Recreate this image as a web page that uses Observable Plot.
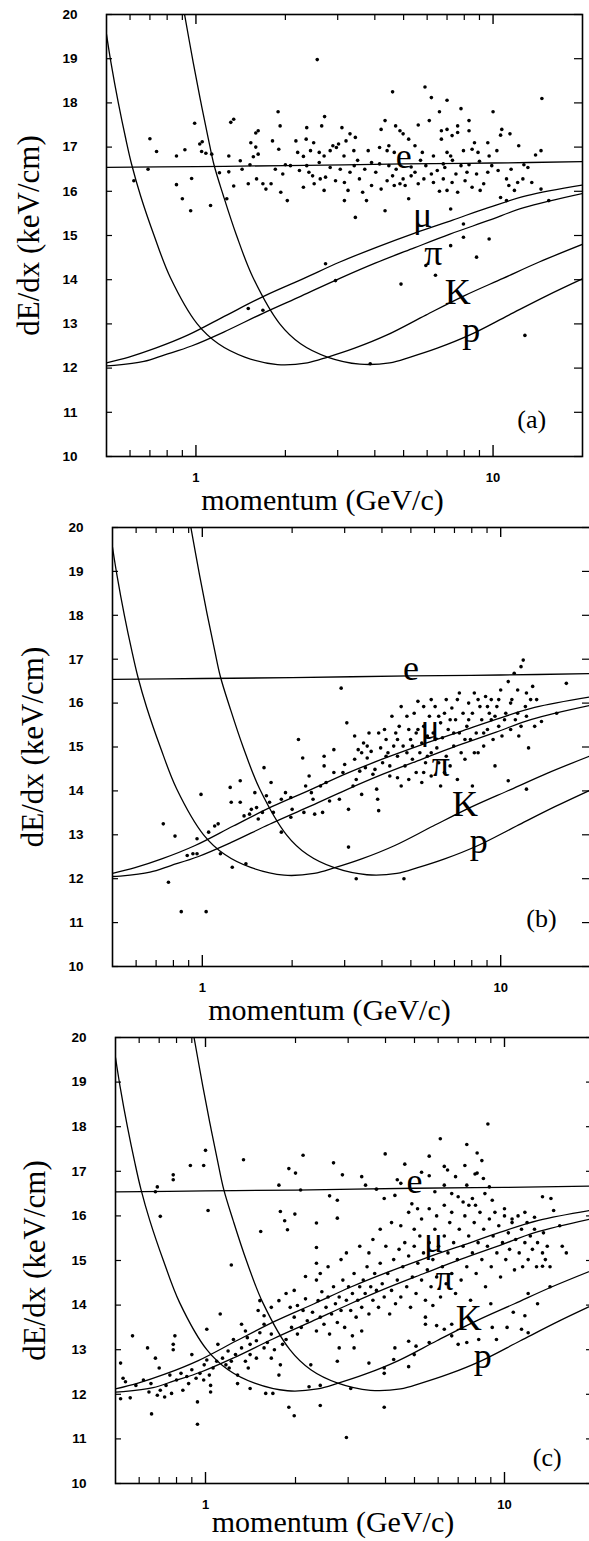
<!DOCTYPE html>
<html><head><meta charset="utf-8">
<script src="https://cdn.jsdelivr.net/npm/d3@7"></script>
<script src="https://cdn.jsdelivr.net/npm/@observablehq/plot@0.6"></script>
<style>
body{margin:0;background:#fff;width:589px;overflow:hidden;}
#chart svg{display:block;}
</style></head><body><div id="chart"></div>
<script>
// ---- theoretical dE/dx bands: [momentum GeV/c, dE/dx keV/cm] ----
const eCurve  = [[0.5,16.54],[1,16.56],[2,16.58],[5,16.62],[10,16.64],[20,16.67]];
const muCurve = [[0.5,12.12],[0.595,12.25],[0.731,12.45],[0.942,12.75],[1.27,13.2],[1.71,13.64],[2.31,14.03],[3.05,14.4],[4.11,14.75],[5.42,15.05],[7.31,15.35],[9.64,15.63],[13.0,15.9],[20,16.14]];
const piCurve = [[0.5,12.05],[0.531,12.06],[0.668,12.15],[0.785,12.3],[0.966,12.5],[1.245,12.82],[1.68,13.24],[2.26,13.63],[3.05,14.03],[4.03,14.38],[5.43,14.72],[7.16,15.03],[9.66,15.34],[12.7,15.63],[20,15.95]];
const kCurve  = [[0.5,19.55],[0.518,18.9],[0.548,18.0],[0.58,17.2],[0.608,16.6],[0.651,15.9],[0.723,15.0],[0.82,14.05],[1.01,13.0],[1.19,12.55],[1.46,12.25],[1.88,12.08],[2.37,12.12],[2.78,12.25],[3.42,12.45],[4.40,12.75],[5.94,13.2],[8.02,13.64],[10.8,14.03],[14.3,14.4],[20,14.8]];
const pCurve  = [[0.91,20.1],[0.98,18.9],[1.04,18.0],[1.10,17.2],[1.15,16.6],[1.237,15.9],[1.37,15.0],[1.556,14.05],[1.915,13.0],[2.25,12.55],[2.77,12.25],[3.56,12.09],[4.49,12.12],[5.27,12.25],[6.49,12.45],[8.36,12.75],[11.3,13.2],[15.2,13.64],[20,14.02]];

// ---- particle labels ----
const particleLabels = [
  {t:"e", p:5.0, v:16.78},
  {t:"μ", p:5.8, v:15.45},
  {t:"π", p:6.3, v:14.6},
  {t:"K", p:7.6, v:13.7},
  {t:"p", p:8.45, v:12.85}
];

// ---- ticks ----
const yTicks = [10,11,12,13,14,15,16,17,18,19,20];
const xMajor = [1,10];
const xMinor = [0.6,0.7,0.8,0.9,2,3,4,5,6,7,8,9];

// ---- measured tracks ----
const dotsA = [[2.56,18.98],[4.59,18.25],[5.9,18.36],[6.2,18.12],[7.0,18.06],[7.8,17.87],[14.6,18.1],[10.0,17.8],[1.89,17.8],[1.92,17.48],[1.34,17.63],[2.71,17.69],[4.2,17.4],[4.7,17.48],[4.33,17.6],[5.6,17.5],[6.1,17.6],[6.6,17.8],[8.3,17.6],[10.7,17.4],[11.4,17.3],[8.3,17.37],[3.1,17.44],[2.65,17.48],[2.36,17.44],[1.62,17.37],[4.98,17.3],[4.86,17.37],[3.3,17.3],
[0.70,17.19],[0.737,16.9],[0.86,16.8],[0.918,16.94],[0.99,17.54],[1.03,17.07],[1.045,16.9],[1.13,16.84],[1.31,17.56],[1.41,16.69],[1.56,16.78],[1.59,17.32],[1.59,17.0],[0.618,16.24],[0.69,16.5],[0.86,16.15],[0.967,16.29],[1.2,16.42],[1.29,16.44],[1.34,16.12],[1.43,16.5],[1.52,16.6],[1.27,15.83],
[0.9,15.83],[0.96,15.56],[1.12,15.68],[1.5,16.17],[1.6,16.28],[1.68,16.17],[1.72,16.05],[1.79,16.17],[1.85,16.5],[1.96,16.39],[1.93,15.98],[2.03,15.79],[2.08,16.58],[2.23,16.47],[2.3,16.09],[2.36,16.58],[2.4,16.43],[2.47,16.35],[2.5,16.17],[2.62,16.28],[2.7,16.02],[2.73,16.32],[2.83,16.54],[2.95,16.24],[3.06,16.5],[3.16,16.2],[3.25,16.02],[3.16,15.79],[3.3,16.43],[3.41,16.58],[3.44,15.41],[3.55,16.28],[3.64,15.98],[3.7,16.5],[3.75,15.79],[3.9,16.13],[4.03,16.43],[4.15,16.62],[4.2,16.05],[4.33,15.56],[4.4,16.24],[4.46,16.58],[4.59,16.35],[4.65,16.13],[4.72,16.5],[4.86,16.17],[4.98,16.28],[5.06,16.13],[5.2,15.83],[5.3,16.35],[5.46,16.43],[5.6,16.17],[5.85,16.28],[5.94,16.58],[6.2,16.39],[6.3,16.2],[6.49,16.47],[6.6,16.0],[6.8,16.28],[6.88,16.54],[7.0,16.02],[7.28,16.2],[7.5,16.39],[7.6,15.98],[7.8,16.58],[8.05,16.24],[8.17,16.43],[8.5,16.09],[8.8,16.39],[9.05,16.02],[9.3,16.17],[9.6,16.43],[9.9,16.58],[10.4,16.47],[11.1,16.28],[11.3,16.13],[11.8,16.02],[12.1,16.2],[12.6,16.28],[13.1,16.54],[13.5,16.2],[14.5,16.05],[10.6,15.86],[11.1,15.79],[15.4,15.79],[7.2,15.6],[7.95,15.26],[7.2,14.77],[7.95,14.96],[9.7,14.92],[8.8,14.51],[5.94,14.32],[6.4,14.1],[4.9,13.9],[2.73,14.36],[2.95,13.98],[1.5,13.35],[1.68,13.31],[3.86,12.1],[12.8,12.74],
[1.05,17.12],[1.53,17.1],[1.81,17.14],[2.17,17.14],[2.35,17.18],[2.49,17.1],[2.89,17.03],[3.02,17.07],[3.2,17.14],[3.44,17.22],[4.46,17.03],[5.2,17.18],[5.46,17.03],[6.7,17.18],[7.28,17.26],[7.6,17.33],[8.66,17.1],[9.6,17.1],[12.2,17.03],[10.6,17.27],[6.7,17.37],[7.0,17.4],[7.6,17.48],
[1.08,16.86],[1.29,16.8],[1.62,16.84],[1.9,16.95],[2.2,16.88],[2.3,16.79],[2.43,16.92],[2.6,16.88],[2.7,16.8],[2.83,16.92],[2.97,16.99],[3.15,16.8],[3.4,16.92],[3.8,16.92],[4.15,16.99],[4.4,16.92],[4.65,16.88],[5.78,16.88],[6.3,16.8],[7.0,16.88],[7.2,16.8],[7.95,16.92],[8.5,16.95],[8.9,16.88],[9.7,16.8],[10.3,16.92],[13.9,16.82],[14.5,16.92],
[2.0,16.6],[2.6,16.65],[3.5,16.7],[3.9,16.65],[5.3,16.55],[5.7,16.7],[6.8,16.62],[7.3,16.7],[8.3,16.6],[9.0,16.68],[11.5,16.5],[12.7,16.6]];

const dotsB = [[0.74,13.25],[0.81,12.97],[0.77,11.92],[0.85,11.25],[1.03,11.25],[0.89,12.53],[0.93,12.57],[0.96,12.57],[0.96,12.91],[0.99,13.92],[1.05,13.06],[1.1,13.2],[1.13,13.25],[1.15,12.57],[1.26,12.26],[1.4,12.34],[1.24,14.08],[1.34,14.23],[1.25,13.74],[1.34,13.74],[1.38,13.43],[1.44,13.47],[1.46,13.58],[1.5,13.96],[1.52,13.62],[1.54,13.36],[1.59,13.51],[1.61,14.53],[1.64,13.89],[1.68,13.74],[1.73,13.51],[1.7,14.19],[1.84,13.06],[1.84,13.81],[1.9,13.96],[1.98,13.4],[1.98,13.85],[2.0,13.58],[2.1,15.17],[2.17,14.75],[2.19,13.51],[2.22,14.11],[2.28,14.34],[2.32,13.96],[2.35,13.81],[2.38,13.47],[2.49,14.11],[2.53,13.51],[2.56,14.79],[2.56,14.57],[2.6,14.19],[2.67,13.77],[2.76,14.94],[2.76,14.42],[2.88,13.81],[2.92,16.34],[2.96,14.42],[3.0,14.6],[3.05,15.55],[3.09,13.58],[3.09,12.72],[3.2,14.11],[3.24,15.25],[3.24,14.72],[3.28,14.26],[3.28,12.0],[3.33,14.94],[3.37,14.45],[3.42,14.87],[3.42,13.92],[3.47,15.09],[3.52,14.53],[3.57,14.75],[3.62,15.32],[3.68,14.9],[3.73,14.38],[3.84,14.04],[3.87,13.81],[3.9,13.55],[3.96,14.98],[4.02,14.64],[4.08,15.4],[4.13,15.17],[4.19,14.87],[4.25,14.57],[4.32,15.7],[4.38,15.02],[4.45,15.32],[4.51,14.3],[4.51,14.79],[4.57,15.47],[4.64,15.92],[4.71,15.02],[4.74,12.0],[4.78,14.57],[4.85,14.87],[4.92,15.4],[4.92,14.26],[4.99,15.17],[5.06,14.72],[5.13,15.77],[5.21,14.42],[5.21,15.32],[5.28,16.04],[5.36,14.87],[5.44,15.09],[5.52,15.47],[5.52,14.42],[5.6,14.64],[5.68,15.25],[5.77,15.7],[5.85,14.87],[5.85,14.34],[5.94,15.32],[6.03,15.92],[6.11,14.98],[6.2,14.64],[6.29,15.55],[6.29,14.11],[6.38,15.21],[6.48,15.77],[6.57,14.79],[6.67,15.4],[6.77,14.57],[6.86,15.89],[6.96,15.02],[7.06,15.62],[7.16,14.26],[7.16,16.08],[7.27,15.32],[7.37,14.87],[7.48,15.77],[7.59,14.72],[7.7,15.47],[7.81,16.0],[7.92,15.17],[8.04,14.11],[8.04,15.77],[8.16,16.23],[8.28,15.32],[8.4,14.87],[8.52,15.92],[8.64,15.62],[8.77,15.02],[8.9,16.15],[9.03,15.4],[9.16,15.77],[9.3,16.08],[9.43,15.17],[9.57,15.7],[9.57,14.57],[9.71,15.92],[9.85,15.47],[10.0,16.3],[10.1,15.25],[10.4,15.77],[10.6,16.49],[10.8,15.4],[10.9,16.08],[11.1,16.68],[11.2,15.62],[11.4,16.3],[11.5,15.25],[11.7,16.83],[11.9,16.98],[12.1,15.92],[12.2,16.23],[12.4,14.98],[12.6,16.08],[12.8,16.38],[13.0,15.47],[13.2,16.08],[13.7,15.58],[12.2,14.04],[10.6,14.23],[16.6,16.45],[15.4,15.77],
[3.57,15.02],[3.79,14.49],[3.9,15.32],[4.13,14.79],[4.25,14.34],[4.51,15.17],[4.64,14.11],[4.85,15.7],[5.06,15.02],[5.28,15.4],[5.44,14.19],[5.68,14.79],[6.03,15.17],[6.2,15.7],[6.48,14.42],[6.77,15.62],[6.96,15.32],[7.27,16.23],[7.59,15.17],[7.81,15.62],[8.16,14.87],[8.4,16.08],[8.77,15.32],[9.03,15.92],[9.3,15.62],[9.85,16.08],[10.3,15.62],[10.8,16.0],[11.4,15.77],[11.7,15.47],[12.2,15.7],[5.52,15.92],[5.85,16.08],[6.57,16.08]];

const dotsC = [[8.8,18.06],[6.1,17.73],[7.48,17.6],[8.1,17.41],[8.4,17.24],[5.6,17.34],[4.64,17.16],[3.99,17.39],[2.12,17.36],[1.0,17.47],[0.89,17.13],[0.986,17.13],[0.78,16.92],[0.78,16.81],[1.34,17.26],[1.9,17.06],[2.0,16.96],[2.68,17.19],[2.87,16.92],[3.33,16.88],[3.43,16.69],[3.73,16.6],[4.38,16.81],[4.5,16.73],[5.28,16.98],[5.6,16.9],[6.29,17.11],[6.45,17.03],[6.86,16.88],[7.37,17.13],[7.97,16.94],[8.1,16.96],[8.5,16.84],[8.9,16.65],[6.29,16.69],[7.48,16.69],[0.69,16.65],[0.68,16.54],[0.706,15.99],[1.02,16.12],[1.76,16.69],[2.08,16.58],[2.6,16.45],[2.76,16.35],[1.78,16.1],[1.84,15.89],[1.99,16.04],[1.88,15.69],[2.35,15.84],[2.76,15.95],[1.53,15.65],[1.22,14.9],[2.35,15.29],[2.35,14.94],[2.35,14.56],[3.96,16.39],[4.3,16.46],[4.9,16.27],[5.12,16.16],[5.85,16.54],[6.66,16.5],[7.0,16.43],[7.6,16.24],[8.0,16.24],[8.6,16.5],[9.1,16.35],[10.0,16.16],[10.6,15.93],[11.7,16.08],[12.6,15.97],[13.4,16.43],[14.3,16.39],[14.6,16.12],[15.3,15.78],[15.6,15.32],[16.1,15.17],[13.7,15.02],[13.4,14.87],[14.2,14.41],[12.0,14.26],[12.9,14.03],[11.7,13.76],[10.7,13.84],[9.0,14.03],[10.2,13.5],[9.1,13.5],[11.4,13.46],[12.0,13.38],[9.4,13.23],[8.2,13.23],[7.48,13.16],[6.66,13.57],[6.29,13.46],[5.93,13.54],[5.44,13.57],[5.44,13.73],[5.76,13.99],[4.78,13.19],[4.99,12.89],[4.78,12.62],[5.06,13.08],[5.6,13.16],[6.66,13.31],[7.0,13.12],[4.3,13.04],[4.26,12.78],[3.96,12.59],[3.96,12.47],[3.52,12.7],[3.96,11.71],[3.06,12.13],[2.96,11.03],[2.42,11.75],[1.98,11.52],[1.9,11.71],[2.22,12.17],[2.42,12.2],[2.76,12.74],[2.8,13.04],[3.1,13.31],[3.33,13.42],[3.14,13.04],[1.68,12.02],[1.59,12.02],[1.41,12.13],[1.28,12.24],[1.04,12.05],[1.04,12.2],[0.94,11.83],[0.94,11.33],[0.73,11.94],[0.66,11.56],[0.56,11.92],[0.52,11.9],[0.53,12.36],[0.52,12.7],[0.57,13.31],[0.64,13.04],[0.68,12.81],[0.7,12.59],[0.78,13.12],[0.79,13.31],[0.78,13.0],[0.9,12.89],[0.99,12.66],[1.01,13.46],[1.1,13.12],[1.12,13.8],[1.2,12.59],[1.28,12.43],[1.32,13.04],[1.32,13.57],[1.36,13.42],[1.41,13.12],[1.41,12.89],[1.48,13.2],[1.48,12.81],[1.52,13.38],[1.57,13.04],[1.57,13.57],[1.66,13.35],[1.61,13.16],[1.76,12.43],[1.78,12.66],[1.81,13.12],[1.86,13.23],[1.94,13.5],[1.98,13.73],[2.03,13.35],[2.03,13.99],[2.09,13.5],[2.12,13.88],[2.16,14.14],[2.19,13.65],[2.25,12.66],[2.28,13.84],[2.35,13.42],[2.38,14.1],[2.42,13.73],[2.45,14.3],[2.49,13.57],[2.53,13.95],[2.57,14.18],[2.6,13.35],[2.64,13.8],[2.68,14.41],[2.72,14.03],[2.76,13.61],[2.8,14.18],[2.84,13.88],[2.88,14.56],[2.92,13.5],[2.96,14.11],[3.01,14.41],[3.06,13.88],[3.1,14.26],[3.14,14.71],[3.19,13.73],[3.23,14.11],[3.28,14.41],[3.33,13.95],[3.37,14.56],[3.42,14.26],[3.47,14.86],[3.52,13.8],[3.57,14.41],[3.63,14.11],[3.68,14.71],[3.73,14.33],[3.79,13.95],[3.84,14.94],[3.9,14.48],[3.96,14.18],[4.01,15.32],[4.07,14.71],[4.13,13.8],[4.19,14.33],[4.26,15.02],[4.32,14.03],[4.38,14.56],[4.44,15.25],[4.5,14.18],[4.57,14.86],[4.64,15.4],[4.71,14.41],[4.78,15.1],[4.85,13.95],[4.92,14.63],[4.99,15.32],[5.06,14.26],[5.13,14.94],[5.21,15.55],[5.28,14.56],[5.36,15.17],[5.44,14.11],[5.52,14.79],[5.6,15.4],[5.68,14.41],[5.76,15.02],[5.85,15.7],[5.93,14.63],[6.02,15.32],[6.11,14.18],[6.2,14.86],[6.29,15.55],[6.38,14.48],[6.47,15.17],[6.56,15.85],[6.66,14.71],[6.76,15.4],[6.86,14.26],[6.96,15.02],[7.06,15.7],[7.16,14.56],[7.27,15.32],[7.37,16.0],[7.48,14.86],[7.59,15.55],[7.7,14.11],[7.81,15.17],[7.92,15.85],[8.04,14.71],[8.16,15.4],[8.28,16.08],[8.4,15.02],[8.52,15.7],[8.64,14.41],[8.77,15.32],[8.9,15.93],[9.03,14.86],[9.16,15.55],[9.29,16.08],[9.43,15.17],[9.57,15.78],[9.7,14.63],[9.85,15.4],[10.0,16.0],[10.1,15.02],[10.3,15.62],[10.4,15.25],[10.6,15.85],[10.8,14.79],[10.9,15.47],[11.1,16.0],[11.2,15.17],[11.4,15.7],[11.5,14.86],[11.7,15.4],[11.9,15.85],[12.0,15.02],[12.2,15.55],[12.4,15.25],[12.6,15.7],[12.8,14.86],[12.9,15.4],[13.4,15.17],[13.5,15.62],[13.9,15.32],[14.2,14.86],
[0.54,12.28],[0.585,12.2],[0.62,12.32],[0.647,12.05],[0.657,12.24],[0.69,11.98],[0.706,12.09],[0.738,12.2],[0.76,12.43],[0.77,12.02],[0.8,12.32],[0.828,12.47],[0.84,12.09],[0.866,12.4],[0.878,12.24],[0.9,12.55],[0.93,12.36],[0.958,12.47],[0.986,12.32],[1.01,12.77],[1.03,12.43],[1.06,12.59],[1.09,12.74],[1.14,12.81],[1.17,12.66],[1.19,12.97],[1.22,12.74],[1.24,13.23],[1.26,12.89],[1.36,12.74],[1.38,13.27],[1.39,12.59],[1.66,12.81],[1.7,13.0],[1.57,13.76],[1.5,13.88],[1.52,14.1],[1.66,13.95],[1.76,14.1],[1.86,14.26],[1.98,14.33],[1.92,13.95],
[2.16,14.64],[2.42,14.71],[2.57,14.86],[2.84,15.02],[2.96,15.17],[3.28,15.32],[3.52,15.17],[3.63,15.47],[3.84,15.7],[4.19,15.85],[4.5,15.78],[4.78,16.08],[4.99,15.7],[5.28,15.93],[5.6,16.16],[5.93,16.0],[6.29,16.24],[6.66,16.08],[7.27,16.31],[7.81,16.39]];

// ---- panel letters ----
const panelLetters = [{t:"(a)", p:13.5, v:10.83},{t:"(b)", p:13.7, v:11.1},{t:"(c)", p:13.9, v:10.57}];

const curveRows = [["e",eCurve],["mu",muCurve],["pi",piCurve],["K",kCurve],["p",pCurve]]
  .flatMap(([id, pts]) => pts.map(([p, v]) => ({id, p, v})));

const serif = "'Liberation Serif','Times New Roman',serif";
const sans = "'Liberation Sans',Arial,sans-serif";

function panel(cfg, dots, letter) {
  const W = 589;
  const fw = W - cfg.mL - cfg.mR, fh = cfg.h - cfg.mT - cfg.mB;
  return Plot.plot({
    width: W, height: cfg.h,
    marginLeft: cfg.mL, marginRight: cfg.mR, marginTop: cfg.mT, marginBottom: cfg.mB,
    x: {type: "log", domain: [0.5, 20], axis: null},
    y: {domain: [10, 20], axis: null},
    style: {background: "white", color: "black", overflow: "hidden"},
    marks: [
      Plot.line(curveRows, {x: "p", y: "v", z: "id", curve: "catmull-rom", stroke: "black", strokeWidth: 1.3, clip: true}),
      Plot.dot(dots, {x: d => d[0], y: d => d[1], r: 1.8, fill: "black", stroke: "none"}),
      Plot.tickX(xMinor, {x: d => d, insetTop: fh - 6, stroke: "black", strokeWidth: 1.2}),
      Plot.tickX(xMinor, {x: d => d, insetBottom: fh - 6, stroke: "black", strokeWidth: 1.2}),
      Plot.tickX(xMajor, {x: d => d, insetTop: fh - 11, stroke: "black", strokeWidth: 1.4}),
      Plot.tickX(xMajor, {x: d => d, insetBottom: fh - 10, stroke: "black", strokeWidth: 1.4}),
      Plot.tickY(yTicks, {y: d => d, insetRight: fw - 6, stroke: "black", strokeWidth: 1.2}),
      Plot.tickY(yTicks, {y: d => d, insetLeft: fw - 8, stroke: "black", strokeWidth: 1.2}),
      Plot.frame({stroke: "black", strokeWidth: 1.6}),
      Plot.text(yTicks, {x: 0.5, y: d => d, dx: -29, textAnchor: "end", text: d => String(d), fontFamily: sans, fontWeight: "bold", fontSize: 13.5, fill: "black"}),
      Plot.text(xMajor, {x: d => d, y: 10, dy: 21, text: d => String(d), fontFamily: sans, fontWeight: "bold", fontSize: 13, fill: "black"}),
      Plot.text(["momentum (GeV/c)"], {frameAnchor: "bottom", textAnchor: "middle", lineAnchor: "middle", dy: cfg.xty, dx: -22, text: d => d, fontFamily: serif, fontSize: 30, fill: "black"}),
      Plot.text(["dE/dx (keV/cm)"], {frameAnchor: "left", textAnchor: "middle", lineAnchor: "middle", dx: cfg.ytx, rotate: -90, text: d => d, fontFamily: serif, fontSize: 31, fill: "black"}),
      Plot.text(particleLabels, {x: "p", y: "v", text: "t", fontFamily: serif, fontSize: 36, fill: "black"}),
      Plot.text([letter], {x: "p", y: "v", text: "t", fontFamily: serif, fontSize: 26, fill: "black"})
    ]
  });
}

const layouts = [
  {h: 516, mT: 14, mB: 60, mL: 106, mR: 7, ytx: -77, xty: 44},
  {h: 512, mT: 11, mB: 62, mL: 112, mR: -1, ytx: -79, xty: 44},
  {h: 513, mT: 9, mB: 58, mL: 115, mR: -5, ytx: -80, xty: 39}
];
const allDots = [dotsA, dotsB, dotsC];
const root = document.getElementById("chart");
layouts.forEach((cfg, i) => root.appendChild(panel(cfg, allDots[i], panelLetters[i])));
</script>
</body></html>
